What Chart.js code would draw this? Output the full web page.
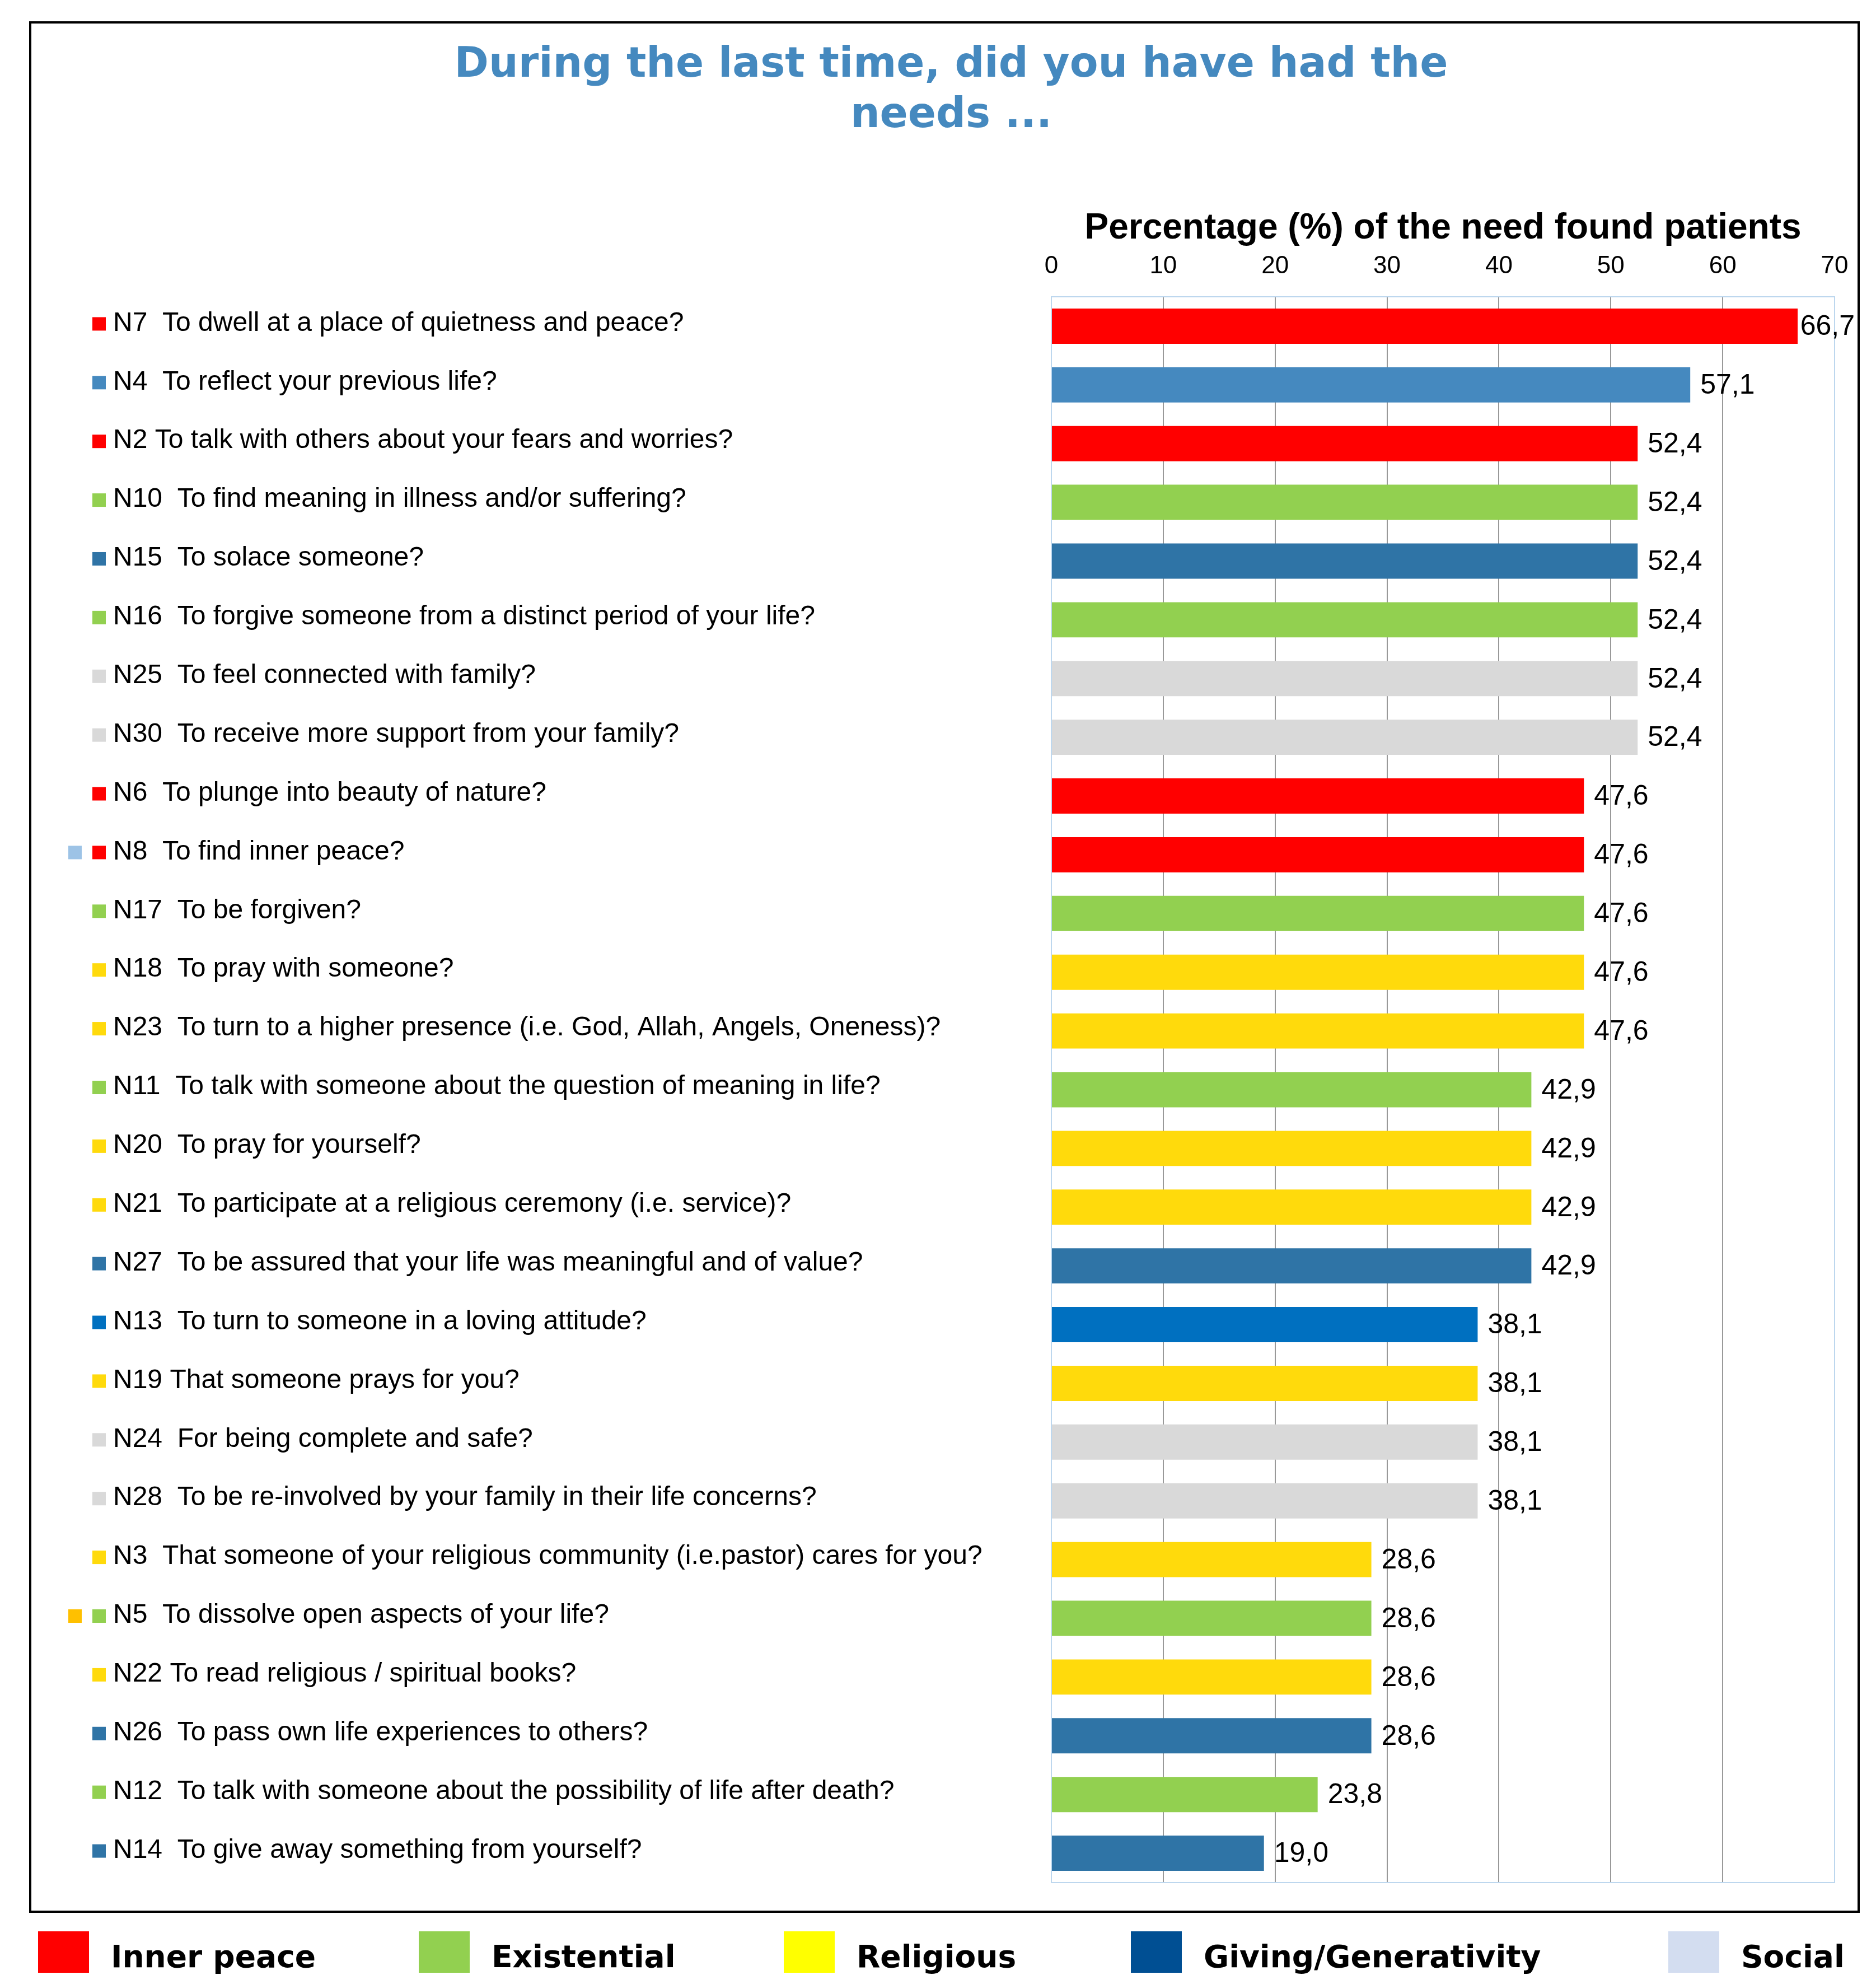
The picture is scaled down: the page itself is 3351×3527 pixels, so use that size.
<!DOCTYPE html>
<html>
<head>
<meta charset="utf-8">
<script src="https://cdn.jsdelivr.net/npm/chart.js@4.4.0/dist/chart.umd.min.js"></script>
<style>
  html, body { margin: 0; padding: 0; background: #fff; }
  #wrap { width: 3351px; height: 3527px; }
</style>
</head>
<body>
<div id="wrap"><canvas id="needsChart"></canvas></div>
<script>
// needs, top to bottom
const needLabels = [
  'N7  To dwell at a place of quietness and peace?',
  'N4  To reflect your previous life?',
  'N2 To talk with others about your fears and worries?',
  'N10  To find meaning in illness and/or suffering?',
  'N15  To solace someone?',
  'N16  To forgive someone from a distinct period of your life?',
  'N25  To feel connected with family?',
  'N30  To receive more support from your family?',
  'N6  To plunge into beauty of nature?',
  'N8  To find inner peace?',
  'N17  To be forgiven?',
  'N18  To pray with someone?',
  'N23  To turn to a higher presence (i.e. God, Allah, Angels, Oneness)?',
  'N11  To talk with someone about the question of meaning in life?',
  'N20  To pray for yourself?',
  'N21  To participate at a religious ceremony (i.e. service)?',
  'N27  To be assured that your life was meaningful and of value?',
  'N13  To turn to someone in a loving attitude?',
  'N19 That someone prays for you?',
  'N24  For being complete and safe?',
  'N28  To be re-involved by your family in their life concerns?',
  'N3  That someone of your religious community (i.e.pastor) cares for you?',
  'N5  To dissolve open aspects of your life?',
  'N22 To read religious / spiritual books?',
  'N26  To pass own life experiences to others?',
  'N12  To talk with someone about the possibility of life after death?',
  'N14  To give away something from yourself?'
];

const needValues = [66.7, 57.1, 52.4, 52.4, 52.4, 52.4, 52.4, 52.4, 47.6, 47.6, 47.6, 47.6, 47.6,
  42.9, 42.9, 42.9, 42.9, 38.1, 38.1, 38.1, 38.1, 28.6, 28.6, 28.6, 28.6, 23.8, 19.0];

const RED = '#FF0000', GREEN = '#92D050', YELLOW = '#FFDA0C', GREY = '#D9D9D9', STEEL = '#2F74A6';
const barColors = [RED, '#4589BF', RED, GREEN, STEEL, GREEN, GREY, GREY, RED, RED, GREEN, YELLOW, YELLOW,
  GREEN, YELLOW, YELLOW, STEEL, '#0070C0', YELLOW, GREY, GREY, YELLOW, GREEN, YELLOW, STEEL, GREEN, STEEL];

// a few labels carry a second little square in front
const extraMarkColors = needLabels.map(() => null);
extraMarkColors[9] = '#9DC3E6';
extraMarkColors[22] = '#FFC000';

const xTicks = [0, 10, 20, 30, 40, 50, 60, 70];

const groupNames = ['Inner peace', 'Existential', 'Religious', 'Giving/Generativity', 'Social'];
const groupColors = ['#FF0000', '#92D050', '#FFFF00', '#004F93', '#D3DDF0'];

const ARIAL = "'Liberation Sans', Arial, sans-serif";
const VERDANA = "'DejaVu Sans', Verdana, sans-serif";
const LABEL_X = 202;
const PAD_LEFT = 121;
const PLOT_LEFT = 1878;
const legendBoxX = [68, 748, 1400, 2020, 2980];

const pagePlugin = {
  id: 'page',
  beforeDraw(chart) {
    const ctx = chart.ctx;
    ctx.save();
    ctx.fillStyle = '#fff';
    ctx.fillRect(0, 0, chart.width, chart.height);
    ctx.strokeStyle = '#000';
    ctx.lineWidth = 4;
    ctx.strokeRect(54, 40, 3266, 3374);
    ctx.restore();
  },
  afterLayout(chart) {
    // labels are left aligned further right than the box edge
    chart.scales.y.left = LABEL_X;
  },
  beforeDatasetsDraw(chart) {
    const ctx = chart.ctx, a = chart.chartArea;
    ctx.save();
    ctx.strokeStyle = '#BDD7EE';
    ctx.lineWidth = 2;
    ctx.strokeRect(a.left, a.top, a.right - a.left, a.bottom - a.top);
    ctx.restore();
  },
  afterDatasetsDraw(chart) {
    const ctx = chart.ctx;
    const meta = chart.getDatasetMeta(0);
    ctx.save();
    ctx.font = '50px ' + ARIAL;
    ctx.fillStyle = '#000';
    ctx.textBaseline = 'middle';
    ctx.textAlign = 'left';
    meta.data.forEach((bar, i) => {
      const txt = needValues[i].toFixed(1).replace('.', ',');
      const w = ctx.measureText(txt).width;
      let x = bar.x + 18;
      if (x + w > 3313) x = 3313 - w;
      ctx.fillText(txt, x, bar.y + 2);
    });

    // small colour squares in front of the need labels
    const y = chart.scales.y;
    needLabels.forEach((l, i) => {
      const cy = y.getPixelForValue(i) - 4;
      ctx.fillStyle = barColors[i];
      ctx.fillRect(165, cy - 12, 24, 24);
      if (extraMarkColors[i]) {
        ctx.fillStyle = extraMarkColors[i];
        ctx.fillRect(122, cy - 12, 24, 24);
      }
    });
    ctx.restore();
  },
  afterDraw(chart) {
    // group legend under the frame
    const ctx = chart.ctx;
    ctx.save();
    ctx.font = 'bold 55px ' + VERDANA;
    ctx.textBaseline = 'alphabetic';
    groupNames.forEach((n, i) => {
      const x = legendBoxX[i];
      ctx.fillStyle = groupColors[i];
      ctx.fillRect(x, 3449, 91, 74);
      ctx.fillStyle = '#000';
      ctx.fillText(n, x + 130, 3513);
    });
    ctx.restore();
  }
};

new Chart(document.getElementById('needsChart'), {
  type: 'bar',
  data: {
    labels: needLabels,
    datasets: [{
      data: needValues,
      backgroundColor: barColors,
      borderWidth: 0,
      barPercentage: 0.6,
      categoryPercentage: 1.0
    }]
  },
  options: {
    indexAxis: 'y',
    responsive: true,
    maintainAspectRatio: false,
    devicePixelRatio: 1,
    animation: false,
    events: [],
    layout: { padding: { left: PAD_LEFT, right: 74, top: 40, bottom: 165 } },
    plugins: {
      legend: { display: false },
      tooltip: { enabled: false },
      title: {
        display: true,
        text: ['During the last time, did you have had the', 'needs ...'],
        color: '#4589BF',
        font: { family: VERDANA, size: 74, weight: 'bold', lineHeight: 1.216 },
        padding: { top: 33, bottom: 117 }
      }
    },
    scales: {
      x: {
        position: 'top',
        min: 0,
        max: 70,
        afterBuildTicks(scale) { scale.ticks = xTicks.map(v => ({ value: v })); },
        afterFit(scale) { scale.height = 160; },
        ticks: {
          color: '#000',
          font: { family: ARIAL, size: 44 },
          padding: 28
        },
        grid: {
          drawTicks: false,
          lineWidth: 2,
          color: ctx => (ctx.tick && (ctx.tick.value === 0 || ctx.tick.value === 70)) ? '#BDD7EE' : '#999999'
        },
        border: { color: '#BDD7EE', width: 2 },
        title: {
          display: true,
          text: 'Percentage (%) of the need found patients',
          color: '#000',
          font: { family: ARIAL, size: 64, weight: 'bold', lineHeight: 1.2 },
          padding: { top: 0, bottom: 0 }
        }
      },
      y: {
        afterFit(scale) { scale.width = PLOT_LEFT - PAD_LEFT; },
        ticks: {
          autoSkip: false,
          crossAlign: 'far',
          color: '#000',
          labelOffset: -5,
          font: { family: ARIAL, size: 48 }
        },
        grid: { display: false, drawTicks: false },
        border: { color: '#BDD7EE', width: 2 }
      }
    }
  },
  plugins: [pagePlugin]
});
</script>
</body>
</html>
